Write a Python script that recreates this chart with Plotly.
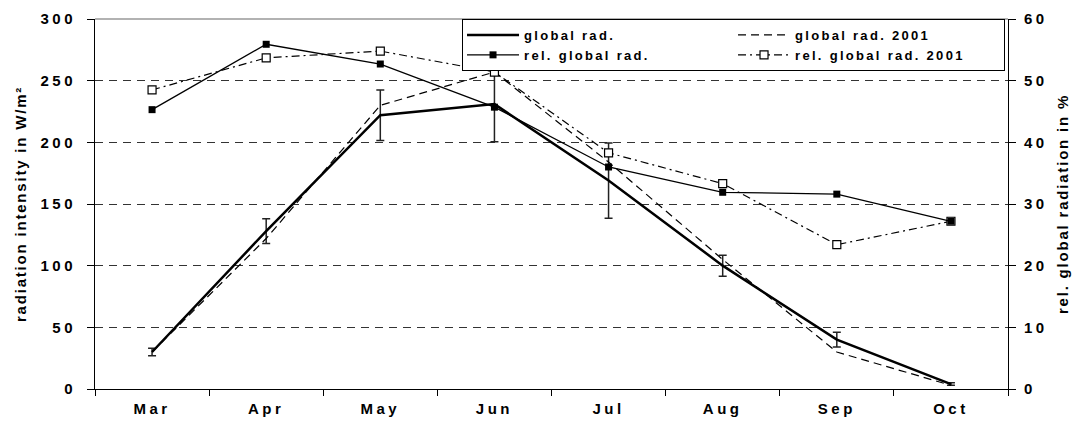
import plotly.graph_objects as go

months = ["Mar", "Apr", "May", "Jun", "Jul", "Aug", "Sep", "Oct"]
global_rad = [30, 128, 222, 231, 169, 100, 40, 4]
global_rad_err = [3, 10, 20.5, 30.5, 30.5, 8.5, 6, 1]
global_rad_2001 = [30, 122, 230, 257, 184, 105, 30, 3]
rel_global_rad = [45.3, 55.9, 52.7, 45.7, 36.0, 31.9, 31.6, 27.2]
rel_global_rad_2001 = [48.5, 53.7, 54.8, 51.4, 38.3, 33.3, 23.4, 27.2]
left_ticks = [0, 50, 100, 150, 200, 250, 300]
right_ticks = [0, 10, 20, 30, 40, 50, 60]

FONT = "Liberation Sans, Arial, sans-serif"


def sp(text, ls):
    return '<span style="letter-spacing:%spx">%s</span>' % (ls, text)


fig = go.Figure()
fig.add_trace(go.Scatter(
    x=months, y=global_rad, name=sp("global rad.", 2.3), mode="lines",
    line=dict(color="black", width=2.5),
    error_y=dict(type="data", array=global_rad_err, visible=True,
                 color="#222", thickness=1.5, width=4),
    legendgroup="a", legendrank=1))
fig.add_trace(go.Scatter(
    x=months, y=global_rad_2001, name=sp("global rad. 2001", 2.3), mode="lines",
    line=dict(color="black", width=1.2, dash="8px,5px"),
    legendgroup="b", legendrank=2))
fig.add_trace(go.Scatter(
    x=months, y=rel_global_rad_2001, name=sp("rel. global rad. 2001", 2.3),
    mode="lines+markers",
    line=dict(color="black", width=1.2, dash="8px,4px,2px,4px"),
    marker=dict(symbol="square", size=8, color="white", line=dict(color="black", width=1.2)),
    yaxis="y2", legendgroup="b", legendrank=4))
fig.add_trace(go.Scatter(
    x=months, y=rel_global_rad, name=sp("rel. global rad.", 2.3), mode="lines+markers",
    line=dict(color="black", width=1.3),
    marker=dict(symbol="square", size=7, color="black"),
    yaxis="y2", legendgroup="a", legendrank=3))

tickfont = dict(family=FONT, size=15, color="black", weight="bold")
titlefont = dict(family=FONT, size=15, color="black", weight="bold")
fig.update_layout(
    width=1079, height=430,
    margin=dict(l=95, r=71, t=19, b=41, autoexpand=False),
    paper_bgcolor="white", plot_bgcolor="white",
    font=dict(family=FONT, color="black"),
    xaxis=dict(type="category", tickson="boundaries", ticks="outside", ticklen=6,
               tickcolor="black", showline=True, linecolor="black", linewidth=1,
               showgrid=False, tickfont=tickfont, range=[-0.5, 7.5],
               tickmode="array", tickvals=months, ticklabelstandoff=6,
               ticktext=[sp(m, 3.5) for m in months]),
    yaxis=dict(range=[0, 300], tickmode="array", tickvals=left_ticks,
               ticktext=[sp(str(v), 3.5) for v in left_ticks],
               ticks="outside", ticklen=7, tickcolor="black", ticklabelstandoff=8,
               showline=True, linecolor="black", linewidth=1,
               showgrid=True, gridcolor="#333", gridwidth=1, griddash="8px,6px",
               zeroline=False, tickfont=tickfont,
               title=dict(text=sp("radiation intensity in W/m²", 1.8), standoff=10,
                          font=titlefont)),
    yaxis2=dict(range=[0, 60], tickmode="array", tickvals=right_ticks,
                ticktext=[sp(str(v), 3.5) for v in right_ticks],
                overlaying="y", side="right", ticklabelstandoff=5,
                ticks="outside", ticklen=7, tickcolor="black",
                showline=True, linecolor="black", linewidth=1, showgrid=False,
                zeroline=False, tickfont=tickfont,
                title=dict(text=sp("rel. global radiation in %", 1.8), standoff=10,
                           font=titlefont)),
    legend=dict(orientation="h", traceorder="grouped", x=0.402, xanchor="left",
                y=1.0, yanchor="top",
                bordercolor="black", borderwidth=1, bgcolor="white",
                entrywidth=204, itemwidth=52, tracegroupgap=0,
                font=dict(family=FONT, size=13, color="black", weight="bold")),
    showlegend=True,
)
fig.add_shape(type="line", xref="paper", yref="paper", x0=0, x1=1, y0=1, y1=1,
              line=dict(color="#999", width=1.5))

fig.write_html("out.html")
